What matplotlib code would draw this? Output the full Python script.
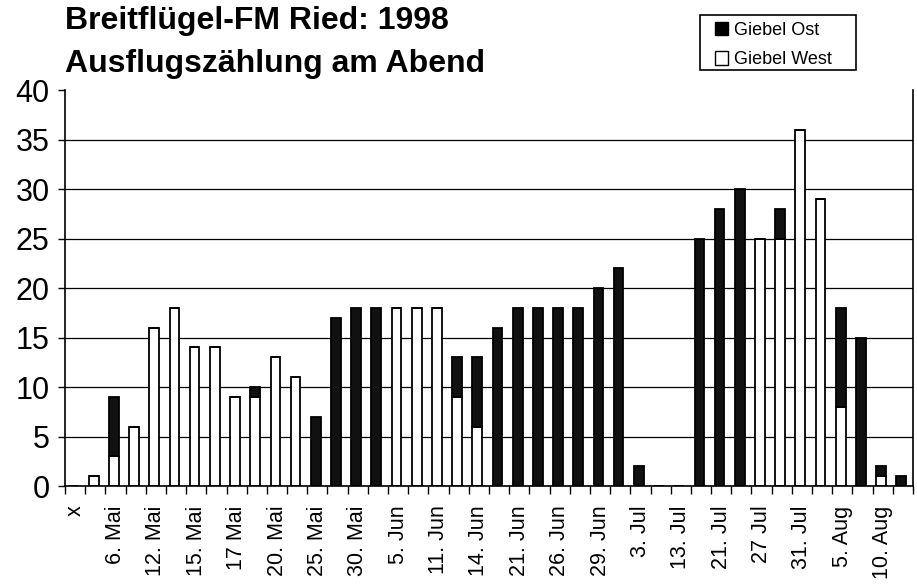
import numpy as np
import matplotlib
matplotlib.use("Agg")
from matplotlib import pyplot as plt
from matplotlib.patches import Patch, Rectangle

plt.rcParams['font.family'] = ['Liberation Sans', 'DejaVu Sans']

# one label every second count
labels = ["x", "6. Mai", "12. Mai", "15. Mai", "17 Mai", "20. Mai", "25. Mai",
          "30. Mai", "5. Jun", "11. Jun", "14. Jun", "21. Jun", "26. Jun",
          "29. Jun", "3. Jul", "13. Jul", "21. Jul", "27 Jul", "31. Jul",
          "5. Aug", "10. Aug"]

west = [0, 1, 3, 6, 16, 18, 14, 14, 9, 9, 13, 11, 0, 0, 0, 0, 18, 18, 18, 9,
        6, 0, 0, 0, 0, 0, 0, 0, 0, 0, 0, 0, 0, 0, 25, 25, 36, 29, 8, 0, 1, 0]
ost = [0, 0, 6, 0, 0, 0, 0, 0, 0, 1, 0, 0, 7, 17, 18, 18, 0, 0, 0, 4,
       7, 16, 18, 18, 18, 18, 20, 22, 2, 0, 0, 25, 28, 30, 0, 3, 0, 0, 10, 15, 1, 1]

west = np.array(west)
ost = np.array(ost)
x = np.arange(len(west))

fig = plt.figure(figsize=(9.17, 5.85), dpi=100)
ax = fig.add_axes([0.0709, 0.1692, 0.9247, 0.6769])

ax.set_axisbelow(True)
ax.yaxis.grid(True, color='black', linewidth=0.9)
w = 0.48
ax.bar(x - 0.08, west, w, color='white', edgecolor='black', linewidth=1.3)
ax.bar(x - 0.08, ost, w, bottom=west, color='#111111', edgecolor='black', linewidth=1.3)

ax.set_xlim(-0.5, len(west) - 0.5)
ax.set_ylim(0, 40)
ax.set_yticks(range(0, 41, 5))
ax.tick_params(axis='y', labelsize=22, length=5, width=1, pad=6)
ax.yaxis.get_gridlines()[-1].set_visible(False)

ax.set_xticks(x[::2])
ax.set_xticklabels(labels, rotation=90, fontsize=15.5)
ax.tick_params(axis='x', length=0, pad=14)
ax.set_xticks(np.arange(-0.5, len(west), 1), minor=True)
ax.tick_params(axis='x', which='minor', length=6, width=1)

ax.spines['top'].set_visible(False)
for s in ['left', 'right', 'bottom']:
    ax.spines[s].set_linewidth(1.2)

fig.text(0.071, 0.951, "Breitflügel-FM Ried: 1998",
         fontsize=23, fontweight='bold', va='baseline', ha='left')
fig.text(0.071, 0.877, "Ausflugszählung am Abend",
         fontsize=23, fontweight='bold', va='baseline', ha='left')

handles = [Patch(facecolor='black', edgecolor='black', label='Giebel Ost'),
           Patch(facecolor='white', edgecolor='black', label='Giebel West')]
fig.legend(handles=handles, loc='upper left', bbox_to_anchor=(0.7795, 0.963),
           fontsize=13, frameon=False,
           handlelength=0.75, handleheight=0.75, handletextpad=0.3,
           borderpad=0.0, labelspacing=0.7, borderaxespad=0)
fig.patches.append(Rectangle((700 / 917, 1 - 70 / 585), 156 / 917, 55 / 585,
                             transform=fig.transFigure, fill=False,
                             edgecolor='black', linewidth=1.2))

fig.savefig("out.png", dpi=100)
